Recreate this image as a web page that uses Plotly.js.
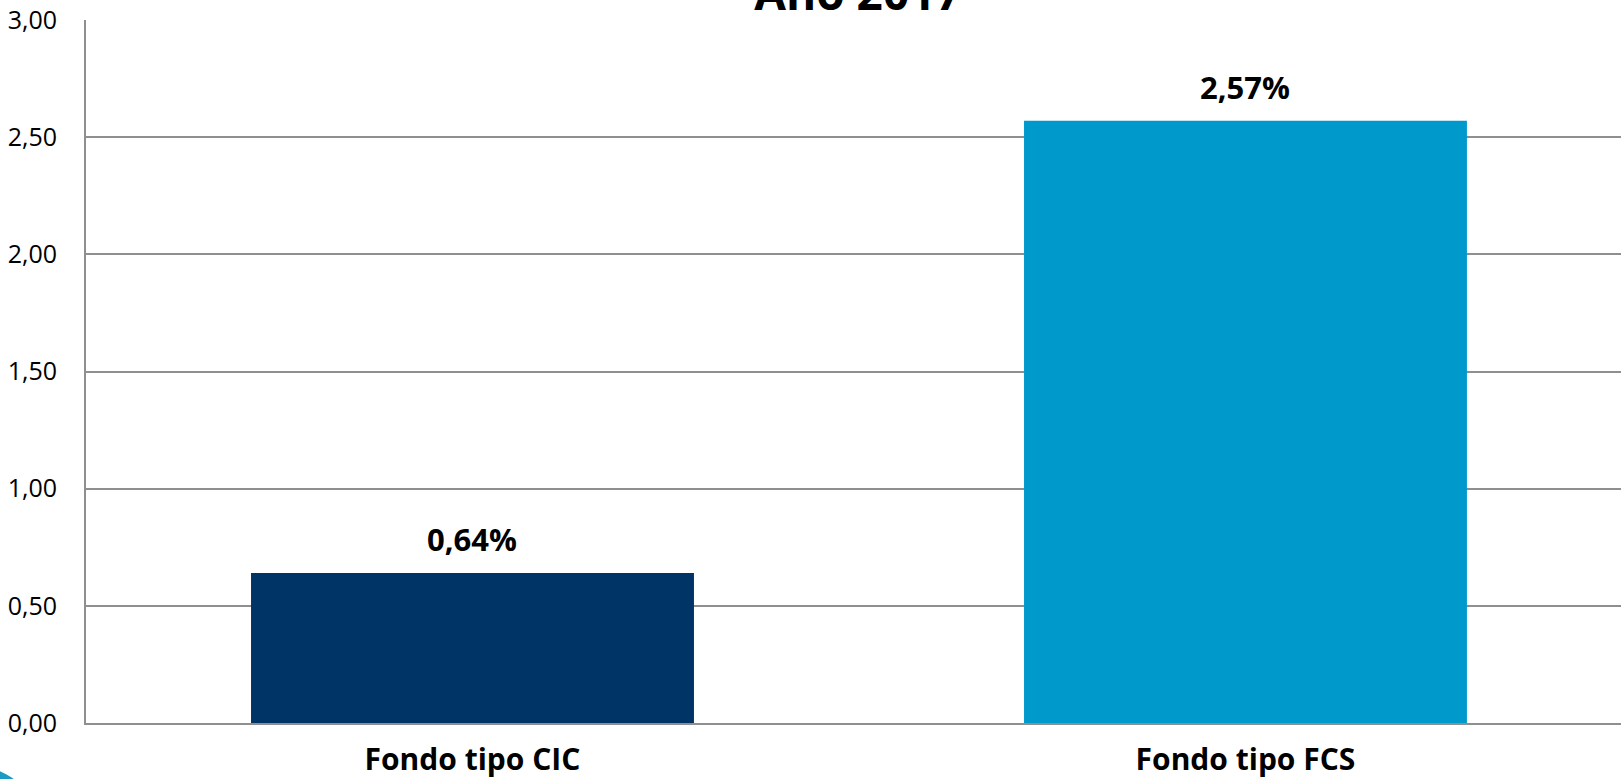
<!DOCTYPE html>
<html>
<head>
<meta charset="utf-8">
<script src="https://cdn.plot.ly/plotly-3.0.1.min.js"></script>
<style>
  html, body { margin: 0; padding: 0; background: #fff; }
  #chart { width: 1621px; height: 779px; }
</style>
</head>
<body>
<div id="chart"></div>
<script>
const categories = ["Fondo tipo CIC", "Fondo tipo FCS"];
const values = [0.64, 2.57];
const barColors = ["#003366", "#0099CC"];
const yTicks = [0, 0.5, 1, 1.5, 2, 2.5, 3];

const font = "'Open Sans', 'DejaVu Sans', sans-serif";

const trace = {
    x: categories,
    y: values,
    type: "bar",
    width: 0.573,
    marker: { color: barColors },
    hoverinfo: "none"
};

// labels above the bars, a bit of air like in the original
const labels = categories.map((c, i) => ({
    x: c,
    y: values[i],
    xref: "x",
    yref: "y",
    text: "<b>" + values[i].toFixed(2).replace(".", ",") + "%</b>",
    showarrow: false,
    yanchor: "bottom",
    yshift: 11,
    font: { family: font, size: 31, color: "#000" }
}));

const layout = {
    width: 1621,
    height: 779,
    margin: { t: 20, r: 0, b: 56, l: 86 },
    paper_bgcolor: "#fff",
    plot_bgcolor: "#fff",
    separators: ",.",
    showlegend: false,
    title: {
        text: "<b>Año 2017</b>",
        font: { family: font, size: 46, color: "#000" },
        xref: "container",
        x: 0.5293,
        xanchor: "center",
        yref: "container",
        y: 0.9876,
        yanchor: "bottom"
    },
    xaxis: {
        type: "category",
        range: [-0.5, 1.4858],
        showgrid: false,
        showline: true,
        linecolor: "#8f8f8f",
        linewidth: 2,
        ticks: "",
        ticklabelstandoff: 9,
        tickfont: { family: font, size: 30, color: "#000", weight: "bold" }
    },
    yaxis: {
        range: [0, 3],
        tickvals: yTicks,
        tickformat: ".2f",
        showgrid: true,
        gridcolor: "#8f8f8f",
        gridwidth: 2,
        showline: true,
        linecolor: "#8f8f8f",
        linewidth: 2,
        zeroline: false,
        ticks: "",
        ticklabelstandoff: 22,
        tickfont: { family: font, size: 25, color: "#000" }
    },
    annotations: labels,
    shapes: [{
        // bit of the logo that peeks in at the bottom-left corner
        type: "circle",
        xref: "paper", yref: "paper",
        x0: -0.1244, x1: -0.0267,
        y0: -0.2731, y1: -0.0597,
        fillcolor: "#1a9bc4",
        line: { width: 0 },
        layer: "below"
    }]
};

Plotly.newPlot("chart", [trace], layout, { displayModeBar: false, staticPlot: true });
</script>
</body>
</html>
